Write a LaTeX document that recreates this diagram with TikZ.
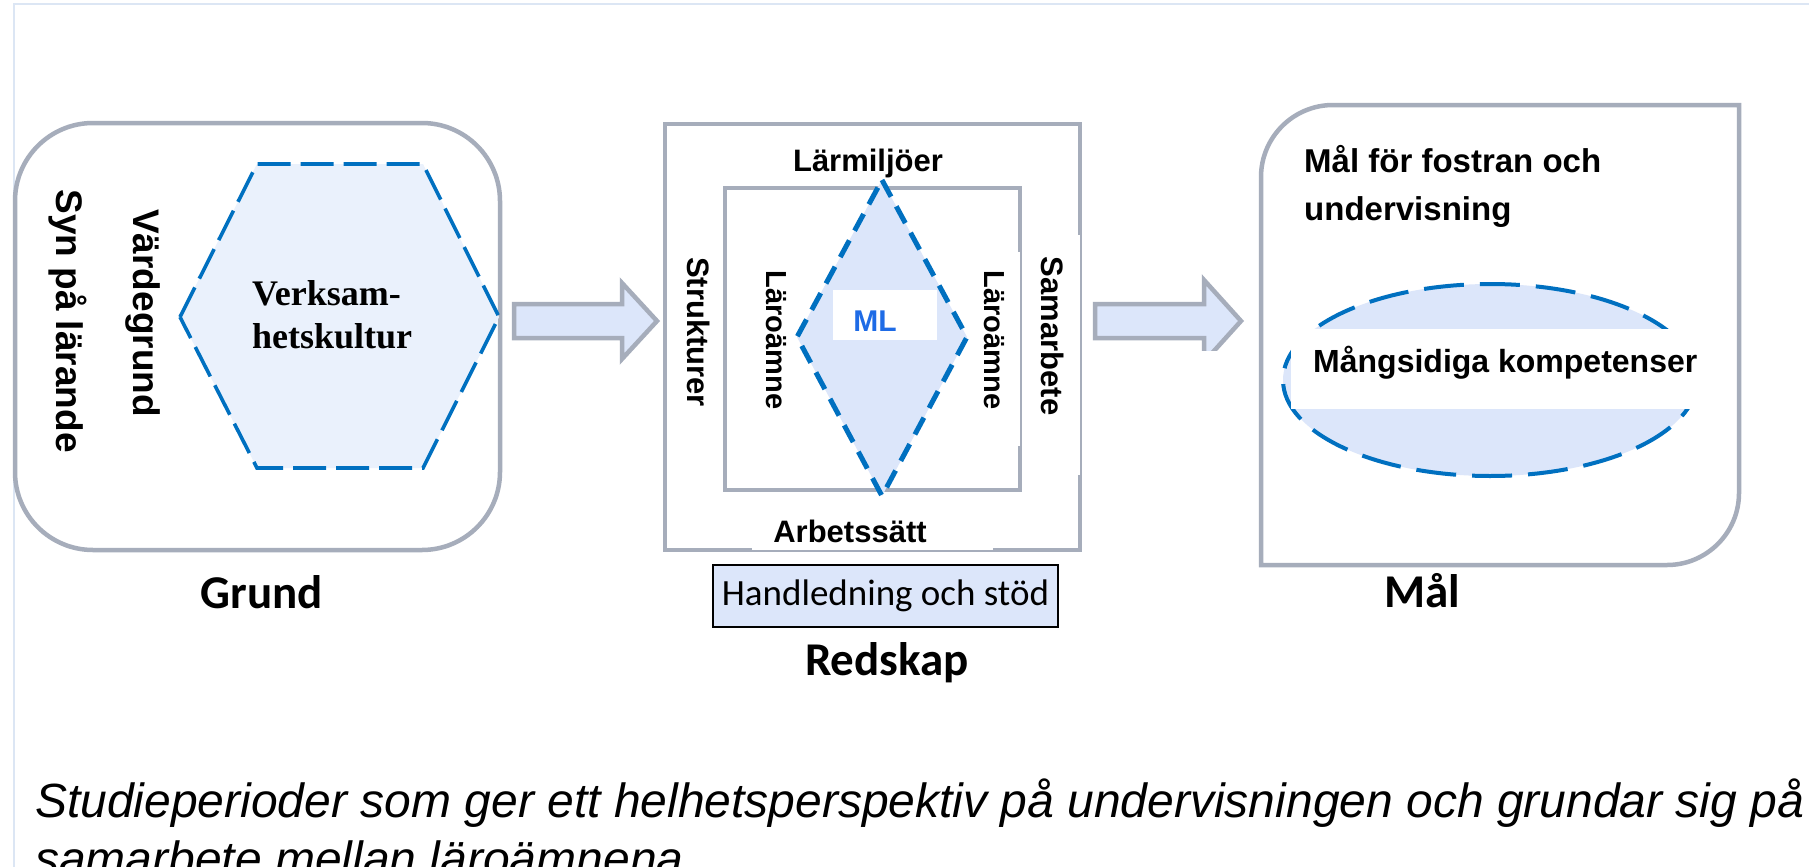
\documentclass[tikz,border=0pt]{standalone}
\usepackage{fontspec}
\setmainfont{Liberation Sans}
\newfontfamily\serifF{Liberation Serif}
\newfontfamily\calF{Carlito}
\definecolor{gr}{HTML}{A6ADBB}
\definecolor{dblue}{HTML}{0070C0}
\definecolor{hexfill}{HTML}{EAF1FC}
\definecolor{lfill}{HTML}{DCE6FA}
\definecolor{frame}{HTML}{DCE6F4}
\definecolor{mlblue}{HTML}{1E6BE6}
\begin{document}
\begin{tikzpicture}[x=1pt,y=-1pt,
  graybox/.style={draw=gr, line width=4.5pt},
  blockarrow/.style={draw=gr, fill=lfill, line width=4.5pt, line join=miter},
  bluedash/.style={draw=dblue, line width=3.6pt, dash pattern=on 33pt off 10pt},
  lbl/.style={font=\bfseries\fontsize{31}{37}\selectfont, inner sep=0pt},
  lblsmall/.style={font=\bfseries\fontsize{29}{35}\selectfont, inner sep=0pt},
  vlbl/.style={font=\bfseries\fontsize{37}{44}\selectfont, inner sep=0pt, rotate=-90},
  caption/.style={font=\calF\bfseries\fontsize{47}{56}\selectfont, inner sep=0pt},
  mask/.style={fill=white, draw=none}
]
\useasboundingbox (0,0) rectangle (1809,867);
\fill[white] (0,0) rectangle (1809,867);
% frame lines
\draw[frame, line width=2pt] (14,867) -- (14,4) -- (1809,4);

% ---------- Grund ----------
\draw[graybox, rounded corners=78pt] (15,123) rectangle (500,550);
\filldraw[fill=hexfill, bluedash] (180,317) -- (257,164) -- (423,164) -- (499,317) -- (423,468) -- (257,468) -- cycle;
\node[vlbl] (syn) at (68,321) {Syn på lärande};
\node[vlbl] (vard) at (143,313) {Värdegrund};
\node[font=\serifF\bfseries\fontsize{36}{43}\selectfont, inner sep=0pt, align=left, anchor=base west] (verk) at (252,348) {Verksam-\\hetskultur};
\node[caption, anchor=base] (grund) at (262,608) {Grund};

% ---------- arrows ----------
\draw[blockarrow] (514,304) -- (622,304) -- (622,283) -- (657,321) -- (622,359) -- (622,338) -- (514,338) -- cycle;
\begin{scope}
\clip (1080,250) rectangle (1260,350);
\draw[blockarrow] (1095,304) -- (1204,304) -- (1204,280) -- (1241,321) -- (1204,362) -- (1204,338) -- (1095,338) -- cycle;
\end{scope}

% ---------- Redskap ----------
\draw[graybox] (665,124) rectangle (1080,550);
\draw[graybox] (725,188) rectangle (1020,490);
\filldraw[fill=lfill, draw=dblue, line width=5pt, dash pattern=on 19pt off 11pt] (882,180) -- (967,337) -- (882,496) -- (797,337) -- cycle;
\fill[mask] (752,515) rectangle (993,549.5);
\fill[mask] (1032,235) rectangle (1079.5,475);
\fill[mask] (975,252) rectangle (1019.5,446);
\node[fill=white, minimum width=104pt, minimum height=50pt, inner sep=0pt] (mlbox) at (885,315) {};
\node[font=\bfseries\fontsize{30}{36}\selectfont, text=mlblue, inner sep=0pt] (ml) at (875,321) {ML};
\node[lbl, anchor=base] (larm) at (868,171) {Lärmiljöer};
\node[lbl, anchor=base] (arb) at (850,542) {Arbetssätt};
\node[lbl, rotate=-90] (strukt) at (699,332) {Strukturer};
\node[lbl, rotate=-90] (samarb) at (1053,336) {Samarbete};
\node[lblsmall, rotate=-90] (laroL) at (776,340) {Läroämne};
\node[lblsmall, rotate=-90] (laroR) at (994,340) {Läroämne};
\node[draw=black, line width=2pt, fill=lfill, minimum width=345pt, minimum height=62pt, inner sep=0pt, font=\calF\fontsize{37}{44}\selectfont] (hand) at (885.5,596) {Handledning och stöd};
\node[caption, anchor=base] (redskap) at (887,675) {Redskap};

% ---------- Mål ----------
\draw[graybox] (1261,177) .. controls (1261,137.3) and (1293.3,105) .. (1333,105) -- (1739,105) -- (1739,493) .. controls (1739,532.7) and (1706.7,565) .. (1667,565) -- (1261,565) -- cycle;
\node[font=\bfseries\fontsize{33}{48}\selectfont, inner sep=0pt, align=left, anchor=base west] (malfor) at (1304,220) {Mål för fostran och\\undervisning};
\filldraw[fill=lfill, draw=dblue, line width=4pt, dash pattern=on 40pt off 16pt] (1490,380) ellipse [x radius=207, y radius=96];
\fill[mask] (1291,329) rectangle (1700,409);
\node[font=\bfseries\fontsize{32}{38}\selectfont, inner sep=0pt, anchor=base west] (mang) at (1313,372) {Mångsidiga kompetenser};
\node[caption, anchor=base] (mal) at (1422,607) {Mål};

% ---------- bottom text ----------
\node[font=\itshape\fontsize{48}{58}\selectfont, inner sep=0pt, align=left, anchor=base west] (studie) at (35,875) {Studieperioder som ger ett helhetsperspektiv på undervisningen och grundar sig på\\samarbete mellan läroämnena.};
\end{tikzpicture}
\end{document}
